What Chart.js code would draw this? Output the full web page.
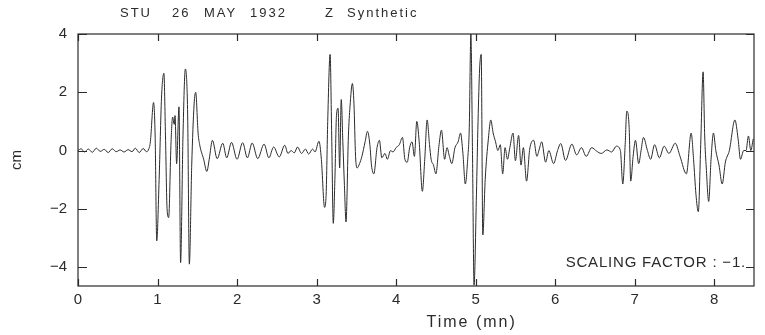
<!DOCTYPE html>
<html>
<head>
<meta charset="utf-8">
<title>STU 26 MAY 1932 Z Synthetic</title>
<script src="https://cdn.jsdelivr.net/npm/chart.js@4.4.1/dist/chart.umd.min.js"></script>
<style>
  html, body { margin: 0; padding: 0; background: #fff; }
  #wrap { width: 765px; height: 335px; }
</style>
</head>
<body>
<div id="wrap"><canvas id="seismogram" width="765" height="335"></canvas></div>
<script>
// Trace (time in minutes, amplitude in cm)
const times = [
  0.00, 0.04, 0.08, 0.13, 0.18, 0.23, 0.28, 0.33, 0.38, 0.43, 0.48, 0.53, 0.58, 0.63, 0.68, 0.72, 0.77, 0.82, 0.86, 0.89,
  0.91, 0.95, 0.97, 0.99, 1.02, 1.05, 1.08, 1.10, 1.12, 1.14, 1.17, 1.19, 1.21, 1.22, 1.24, 1.27, 1.29, 1.32, 1.35, 1.37,
  1.38, 1.40, 1.43, 1.46, 1.48, 1.51, 1.53, 1.58, 1.62, 1.65,
  1.69, 1.75, 1.82, 1.87, 1.93, 2.00, 2.07, 2.13, 2.19, 2.26, 2.34, 2.40, 2.46, 2.53, 2.60, 2.64, 2.68, 2.72, 2.76, 2.81,
  2.86, 2.90, 2.95, 2.98, 3.03, 3.06, 3.10, 3.12, 3.14, 3.17, 3.19, 3.21, 3.23, 3.25, 3.27, 3.29, 3.31, 3.33, 3.35, 3.37,
  3.40, 3.42, 3.45, 3.47, 3.49, 3.51, 3.54, 3.57, 3.61, 3.64, 3.67, 3.69, 3.72, 3.76, 3.79, 3.82, 3.86, 3.89, 3.93, 3.96,
  4.00, 4.04, 4.08, 4.11, 4.14, 4.17, 4.20, 4.23, 4.26, 4.29, 4.33, 4.36, 4.39, 4.42, 4.44, 4.47, 4.50, 4.54, 4.57, 4.61,
  4.64, 4.67, 4.70, 4.74, 4.78, 4.81, 4.84, 4.87, 4.90, 4.92, 4.94, 4.96, 4.98, 5.01, 5.03, 5.05, 5.07, 5.09, 5.12, 5.16,
  5.19, 5.22, 5.25, 5.28, 5.31, 5.34, 5.37, 5.40, 5.43, 5.47, 5.50, 5.54, 5.57, 5.60, 5.64, 5.68, 5.73, 5.77, 5.80, 5.83,
  5.88, 5.92, 5.98, 6.03, 6.07, 6.13, 6.21, 6.27, 6.33, 6.39, 6.46, 6.52, 6.58, 6.65, 6.71, 6.77, 6.82, 6.85, 6.88, 6.90,
  6.93, 6.95, 6.98, 7.01, 7.05, 7.08, 7.11, 7.16, 7.20, 7.25, 7.31, 7.37, 7.43, 7.51, 7.57, 7.65, 7.71, 7.74, 7.77, 7.80,
  7.83, 7.86, 7.88, 7.90, 7.93, 7.96, 7.99, 8.02, 8.06, 8.10, 8.14, 8.19, 8.26, 8.30, 8.33, 8.37, 8.40, 8.43, 8.46, 8.49
];
const amplitudes = [
  0.00, 0.06, -0.05, 0.05, -0.06, 0.08, -0.03, 0.04, -0.07, 0.06, -0.04, 0.02, -0.05, 0.03, -0.04, 0.08, -0.07, 0.07, -0.04, 0.05,
  0.30, 1.65, 0.50, -3.10, -1.00, 1.80, 2.65, 0.50, -2.00, -2.30, 0.30, 1.15, 0.90, 1.20, -0.45, 1.50, -3.85, 0.50, 2.80, 2.20,
  1.00, -3.90, -0.50, 1.60, 2.00, 0.60, 0.20, -0.30, -0.72, -0.30,
  0.35, -0.28, 0.25, -0.25, 0.28, -0.30, 0.27, -0.25, 0.26, -0.28, 0.22, -0.25, 0.12, -0.22, 0.18, -0.10, 0.00, -0.08, 0.12, -0.10,
  0.05, -0.12, 0.05, -0.05, 0.32, -0.30, -1.95, -1.50, 1.00, 3.30, 0.50, -2.50, -1.00, 1.20, 1.45, -0.60, 1.75, 0.30, -1.20, -2.45,
  0.50, 1.50, 2.30, 1.60, -0.20, -0.60, -0.45, -0.20, 0.30, 0.66, 0.20, -0.50, -0.80, 0.10, 0.35, -0.25, -0.10, -0.30, 0.00, -0.05,
  0.10, 0.20, 0.45, -0.30, -0.40, 0.10, 0.30, -0.20, 1.00, 0.30, -1.40, -0.30, 1.05, 0.20, -0.30, -0.50, -0.80, 0.20, 0.70, -0.30,
  0.10, -0.20, -0.45, 0.10, 0.30, 0.60, -0.10, -1.15, -0.30, 0.80, 4.00, 0.00, -4.62, -1.50, 1.00, 2.80, 3.30, -2.90, -1.00, 0.40,
  1.05, 0.60, 0.30, 0.00, 0.20, -0.80, 0.10, -0.30, 0.10, 0.60, -0.35, 0.52, -0.50, 0.10, -1.05, 0.05, 0.35, -0.20, 0.05, 0.30,
  -0.40, 0.00, -0.45, 0.00, 0.24, -0.34, 0.22, -0.15, 0.10, -0.20, 0.10, -0.02, -0.10, 0.02, -0.05, 0.15, 0.00, -1.15, 0.20, 1.35,
  0.80, -1.05, -0.20, 0.35, -0.45, 0.00, 0.45, 0.00, -0.30, 0.20, -0.25, 0.15, -0.10, 0.25, -0.20, -0.80, 0.60, -0.30, -1.50, -2.10,
  0.20, 2.70, 0.50, -0.60, -1.75, -0.30, 0.60, 0.00, -0.50, -1.15, -0.40, 0.00, 1.05, 0.40, -0.30, 0.00, 0.00, 0.50, 0.00, 0.40
];
const xTicks = [0, 1, 2, 3, 4, 5, 6, 7, 8];
const yTicks = [-4, -2, 0, 2, 4];

const ink = '#2b2b2b';
const fontStack = "'Liberation Sans', Arial, sans-serif";
const labelFont = { family: fontStack, size: 15 };

// Frame with inward ticks on all four sides, plus the free-standing texts
const plotFrame = {
    id: 'plotFrame',
    afterDatasetsDraw(chart) {
        const { ctx, chartArea: a, scales } = chart;
        ctx.save();
        ctx.strokeStyle = ink;
        ctx.lineWidth = 1.2;
        ctx.strokeRect(a.left, a.top, a.right - a.left, a.bottom - a.top);
        ctx.beginPath();
        xTicks.forEach(v => {
            const px = Math.round(scales.x.getPixelForValue(v)) + 0.5;
            ctx.moveTo(px, a.bottom); ctx.lineTo(px, a.bottom - 7);
            ctx.moveTo(px, a.top); ctx.lineTo(px, a.top + 7);
        });
        yTicks.forEach(v => {
            const py = Math.round(scales.y.getPixelForValue(v)) + 0.5;
            ctx.moveTo(a.left, py); ctx.lineTo(a.left + 9, py);
            ctx.moveTo(a.right, py); ctx.lineTo(a.right - 8, py);
        });
        ctx.stroke();

        ctx.fillStyle = ink;
        ctx.textBaseline = 'middle';
        // header, spaced out like the plotter output
        ctx.font = '13px ' + fontStack;
        ctx.letterSpacing = '2px';
        ctx.textAlign = 'left';
        ctx.fillText('STU', 120, 13);
        ctx.fillText('26', 172, 13);
        ctx.fillText('MAY', 204, 13);
        ctx.fillText('1932', 250, 13);
        ctx.fillText('Z', 325, 13);
        ctx.fillText('Synthetic', 347, 13);

        ctx.font = '15px ' + fontStack;
        ctx.letterSpacing = '0.8px';
        ctx.textAlign = 'right';
        ctx.fillText('SCALING FACTOR : \u22121.', a.right - 8, scales.y.getPixelForValue(-3.85));
        ctx.font = '16px ' + fontStack;
        ctx.letterSpacing = '2px';
        ctx.textAlign = 'center';
        ctx.fillText('Time (mn)', scales.x.getPixelForValue(4.95), 323);
        ctx.letterSpacing = '0px';
        ctx.restore();
    }
};

document.addEventListener('DOMContentLoaded', function() {
    const points = times.map((t, i) => ({ x: t, y: amplitudes[i] }));

    new Chart(document.getElementById('seismogram'), {
        type: 'line',
        data: {
            datasets: [{
                label: 'Z',
                data: points,
                borderColor: ink,
                borderWidth: 1,
                pointRadius: 0,
                fill: false,
                cubicInterpolationMode: 'monotone'
            }]
        },
        options: {
            responsive: false,
            animation: false,
            devicePixelRatio: 1,
            layout: { padding: { left: 0, right: 11, top: 34, bottom: 0 } },
            plugins: {
                legend: { display: false },
                tooltip: { enabled: false }
            },
            scales: {
                x: {
                    type: 'linear',
                    min: 0,
                    max: 8.5,
                    afterBuildTicks: s => { s.ticks = xTicks.map(v => ({ value: v })); },
                    afterFit: s => { s.height = 49; },
                    grid: { display: false, drawTicks: false },
                    border: { display: false },
                    ticks: { color: ink, font: labelFont, padding: 5, maxRotation: 0 }
                },
                y: {
                    type: 'linear',
                    min: -4.65,
                    max: 4,
                    afterBuildTicks: s => { s.ticks = yTicks.map(v => ({ value: v })); },
                    afterFit: s => { s.width = 78; },
                    grid: { display: false, drawTicks: false },
                    border: { display: false },
                    ticks: {
                        color: ink,
                        font: labelFont,
                        padding: 11,
                        callback: v => (v < 0 ? '\u2212' + Math.abs(v) : String(v))
                    },
                    title: { display: true, text: 'cm', color: ink, font: labelFont, padding: { top: 8 } }
                }
            }
        },
        plugins: [plotFrame]
    });
});
</script>
</body>
</html>
